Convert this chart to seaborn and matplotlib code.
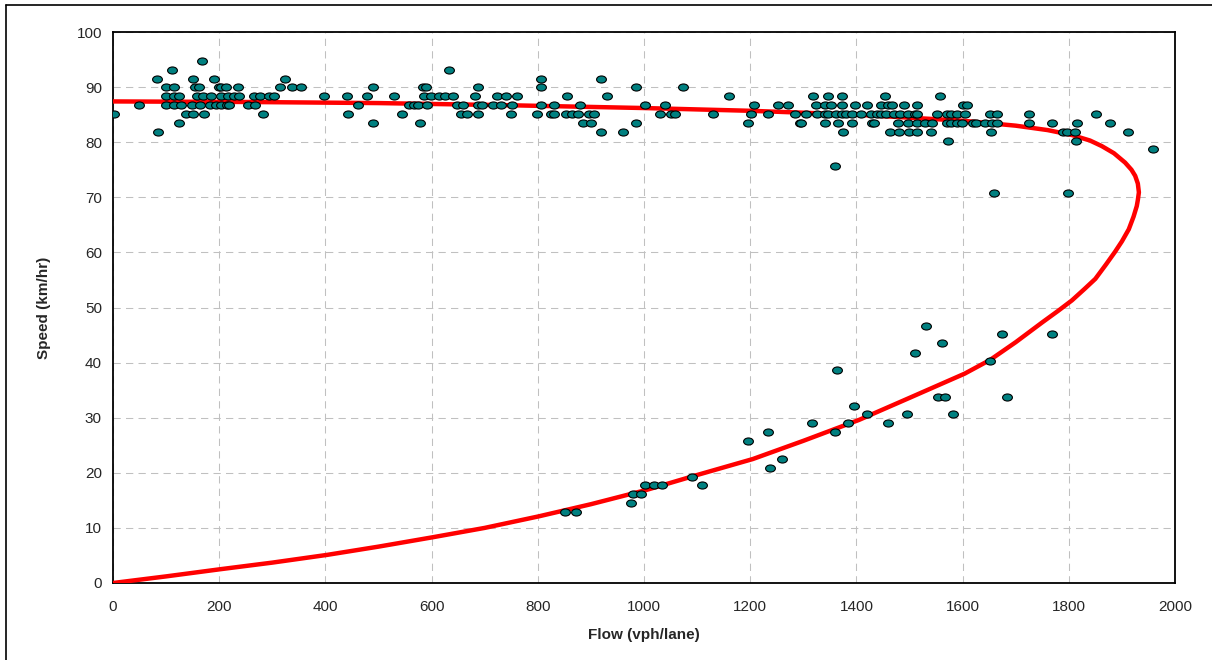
import numpy as np
import pandas as pd
import matplotlib
matplotlib.use("Agg")
import matplotlib.pyplot as plt
from matplotlib.path import Path
from matplotlib.transforms import Affine2D
from matplotlib.lines import Line2D
import seaborn as sns

# ---------------- data ----------------
# observed points, grouped by speed row (km/h) -> flows (vph/lane)
row_speeds = [94.7, 93.1, 91.5, 90.0, 88.3, 86.7, 85.1, 83.5, 81.9, 80.3, 78.7, 75.6, 70.8]
row_flows = [
    [168],
    [111, 633],
    [83, 150, 190, 323, 806, 919],
    [100, 114, 154, 162, 199, 203, 213, 236, 314, 338, 354, 489, 584, 589, 688, 806, 985, 1074],
    [100, 114, 124, 158, 169, 185, 203, 216, 227, 238, 266, 276, 293, 304, 397, 441, 479, 530,
     585, 598, 614, 626, 640, 681, 723, 741, 760, 855, 930, 1160, 1318, 1347, 1372, 1453, 1558],
    [49, 99, 114, 128, 148, 163, 183, 194, 203, 214, 219, 255, 267, 461, 558, 567, 574, 591,
     648, 660, 687, 694, 716, 730, 752, 806, 830, 880, 1001, 1039, 1208, 1253, 1271, 1323,
     1340, 1353, 1372, 1397, 1420, 1447, 1460, 1467, 1490, 1515, 1600, 1609],
    [1, 137, 150, 171, 282, 443, 545, 655, 666, 687, 749, 798, 825, 831, 853, 865, 875, 897,
     905, 1031, 1051, 1059, 1130, 1201, 1234, 1285, 1306, 1326, 1340, 1347, 1362, 1372, 1381,
     1391, 1409, 1428, 1439, 1447, 1455, 1471, 1482, 1498, 1510, 1515, 1552, 1571, 1579, 1589,
     1604, 1651, 1665, 1725, 1852],
    [124, 489, 578, 886, 900, 984, 1196, 1293, 1296, 1340, 1365, 1391, 1430, 1433, 1479, 1498,
     1515, 1529, 1543, 1570, 1579, 1589, 1598, 1620, 1626, 1643, 1656, 1665, 1725, 1768, 1815, 1877],
    [84, 919, 960, 1375, 1464, 1481, 1499, 1515, 1540, 1653, 1790, 1796, 1811, 1911],
    [1573, 1813],
    [1958],
    [1360],
    [1660, 1798],
]

# congested observations
cong_flow = [851, 871, 975, 979, 995, 1002, 1018, 1034, 1090, 1109, 1196, 1234, 1238, 1260,
             1317, 1360, 1364, 1384, 1396, 1420, 1460, 1496, 1510, 1531, 1553, 1562, 1567,
             1581, 1652, 1675, 1684, 1769]
cong_speed = [12.9, 12.9, 14.5, 16.1, 16.1, 17.7, 17.7, 17.7, 19.3, 17.7, 25.7, 27.4, 20.9, 22.5,
              29.0, 27.4, 38.6, 29.0, 32.2, 30.6, 29.0, 30.6, 41.8, 46.7, 33.8, 43.5, 33.8,
              30.6, 40.2, 45.1, 33.8, 45.1]

# fitted speed-flow curve (free-flow -> jam)
curve_flow = [0, 250, 500, 750, 1000, 1200, 1400, 1600, 1700, 1760, 1806, 1840, 1862, 1885,
              1906, 1918, 1925, 1930, 1932, 1930, 1928, 1922, 1913, 1900, 1887, 1870, 1850,
              1830, 1806, 1780, 1750, 1700, 1652, 1604, 1500, 1405, 1300, 1205, 1100, 1005,
              900, 802, 700, 602, 500, 403, 300, 202, 100, 0]
curve_speed = [87.4, 87.3, 87.1, 86.7, 86.2, 85.7, 85.0, 83.9, 83.0, 82.2, 81.3, 80.3, 79.3, 78.0,
               76.3, 75.0, 73.9, 72.5, 70.9, 69.5, 68.4, 66.5, 64.2, 62.0, 60.1, 57.8, 55.2,
               53.4, 51.3, 49.4, 47.3, 43.7, 40.5, 38.0, 33.6, 29.6, 25.8, 22.5, 19.6, 16.9,
               14.3, 12.1, 10.0, 8.3, 6.6, 5.1, 3.7, 2.5, 1.2, 0.0]

x_ticks = list(range(0, 2001, 200))
y_ticks = list(range(0, 101, 10))

# ---------------- build tables ----------------
pts_flow, pts_speed = [], []
for s, fl in zip(row_speeds, row_flows):
    pts_flow += fl
    pts_speed += [s] * len(fl)
pts_flow += cong_flow
pts_speed += cong_speed
obs = pd.DataFrame({"flow": pts_flow, "speed": pts_speed})
curve = pd.DataFrame({"flow": curve_flow, "speed": curve_speed})

# ---------------- style ----------------
sns.set_style("white")
plt.rcParams["font.family"] = ["Liberation Sans", "DejaVu Sans"]

fig = plt.figure(figsize=(12.12, 6.6), dpi=100)
ax = fig.add_axes([113 / 1212, 1 - 583 / 660, (1175 - 113) / 1212, (583 - 32) / 660])

sns.lineplot(data=curve, x="flow", y="speed", sort=False, estimator=None,
             color="#ff0000", linewidth=3.2, ax=ax, zorder=3)

ellipse = Path.unit_circle().transformed(Affine2D().scale(1.0, 0.72))
sns.scatterplot(data=obs, x="flow", y="speed", marker=ellipse, s=50,
                color="#008080", edgecolor="black", linewidth=0.8, ax=ax, zorder=4)

ax.set_xlim(0, 2000)
ax.set_ylim(0, 100)
ax.set_xticks(x_ticks)
ax.set_yticks(y_ticks)
ax.set_xticklabels([str(v) for v in x_ticks])
ax.set_yticklabels([str(v) for v in y_ticks])
ax.grid(True, color="#c0c0c0", linestyle=(0, (7, 5)), linewidth=0.75)
ax.set_axisbelow(True)
for sp in ax.spines.values():
    sp.set_color("black")
    sp.set_linewidth(1.3)
    sp.set_visible(True)
ax.tick_params(axis="y", direction="inout", length=8, width=1, labelsize=11, pad=4)
ax.tick_params(axis="x", direction="inout", length=8, width=1, labelsize=11, pad=8)
ax.set_xlabel("Flow (vph/lane)", fontsize=11, fontweight="bold", labelpad=10)
ax.set_ylabel("Speed (km/hr)", fontsize=11, fontweight="bold", labelpad=18)

# outer border (left and top visible)
fig.add_artist(Line2D([6 / 1212, 6 / 1212], [-0.05, 1 - 5 / 660], color="black", lw=1.2,
                      transform=fig.transFigure))
fig.add_artist(Line2D([6 / 1212, 1.05], [1 - 5 / 660, 1 - 5 / 660], color="black", lw=1.2,
                      transform=fig.transFigure))

fig.savefig("out.png", dpi=100)
